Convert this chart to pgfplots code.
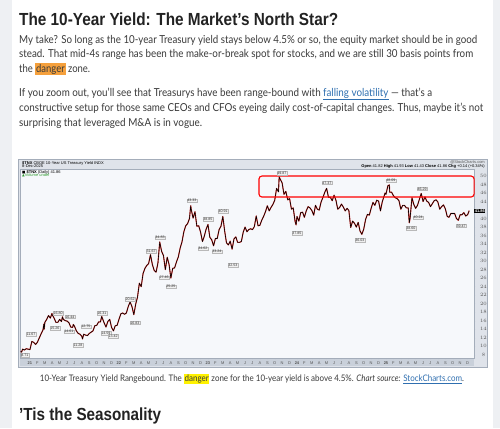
\documentclass[border=0pt]{standalone}
\usepackage{pgfplots}
\usepackage{pgfplotstable}
\pgfplotsset{compat=1.18}
\usepackage{graphicx}
\usepackage{fontspec}
\setmainfont{Lato}
\newfontfamily\headfont{Liberation Sans}
\newfontfamily\scfont{Liberation Sans}
\newfontfamily\symfont{DejaVu Sans}
\definecolor{pagegray}{HTML}{EEF0F3}
\definecolor{txt}{HTML}{3A3A3A}
\definecolor{titlec}{HTML}{222222}
\definecolor{dangerorange}{HTML}{F5A03C}
\definecolor{dangeryellow}{HTML}{FFF200}
\definecolor{linkblue}{HTML}{2F6FB0}
\definecolor{framec}{HTML}{A4ADBA}
\definecolor{frameband}{HTML}{DFE3EA}
\definecolor{plotbg}{HTML}{F6F8FB}
\definecolor{bottomband}{HTML}{C9D0DA}
\definecolor{tnxred}{HTML}{E8403C}
\definecolor{labgray}{HTML}{555555}
\definecolor{volgreen}{HTML}{2E9A2E}
\newcommand\tf{\scfont\fontsize{4}{4.5}\selectfont}
\newcommand\lf{\scfont\fontsize{3.6}{4}\selectfont}

\pgfplotstableread{
t v
2020.896 8.8
2020.906 8.6
2020.917 9.3
2020.938 9.1
2020.958 9.4
2020.979 9.3
2021.000 9.2
2021.021 11.1
2021.042 10.9
2021.063 10.4
2021.083 10.9
2021.104 11.9
2021.125 12.9
2021.146 13.8
2021.156 15.2
2021.160 14.0
2021.167 15.6
2021.188 16.3
2021.208 17.2
2021.229 16.6
2021.247 17.7
2021.250 17.4
2021.271 16.6
2021.292 15.6
2021.313 15.6
2021.333 16.3
2021.354 15.8
2021.365 16.9
2021.375 16.3
2021.396 16.0
2021.417 15.9
2021.438 15.5
2021.458 14.5
2021.479 14.4
2021.487 15.1
2021.500 14.7
2021.521 13.6
2021.542 13.0
2021.563 12.8
2021.583 12.3
2021.590 11.7
2021.604 12.8
2021.625 12.6
2021.646 12.5
2021.667 13.0
2021.688 13.3
2021.708 13.6
2021.729 14.8
2021.750 14.9
2021.771 15.7
2021.792 15.7
2021.806 17.0
2021.813 16.6
2021.833 15.5
2021.854 14.5
2021.875 15.8
2021.896 16.3
2021.917 14.4
2021.938 13.6
2021.958 14.8
2021.979 14.9
2022.000 16.3
2022.021 17.6
2022.042 17.8
2022.063 17.5
2022.083 17.8
2022.104 19.3
2022.125 20.4
2022.146 19.3
2022.167 17.4
2022.188 19.9
2022.208 21.5
2022.229 24.8
2022.250 24.0
2022.271 27.1
2022.292 28.3
2022.313 29.0
2022.333 29.4
2022.354 31.5
2022.375 29.2
2022.396 27.8
2022.417 27.4
2022.438 29.6
2022.458 34.5
2022.479 32.3
2022.500 31.3
2022.521 28.0
2022.542 30.9
2022.563 29.2
2022.583 26.0
2022.604 28.3
2022.625 28.4
2022.646 29.8
2022.667 31.0
2022.688 33.1
2022.708 34.5
2022.729 36.9
2022.750 38.3
2022.771 38.8
2022.792 40.0
2022.806 43.0
2022.813 42.0
2022.833 40.1
2022.854 41.6
2022.875 38.2
2022.896 38.3
2022.917 36.8
2022.938 34.6
2022.958 35.8
2022.979 37.5
2023.000 38.6
2023.021 35.6
2023.042 35.0
2023.063 33.6
2023.083 35.3
2023.104 35.3
2023.125 37.4
2023.146 38.2
2023.167 40.5
2023.188 37.0
2023.208 34.3
2023.229 33.8
2023.250 34.7
2023.271 32.8
2023.292 35.2
2023.313 35.7
2023.333 34.4
2023.354 34.4
2023.375 34.6
2023.396 36.8
2023.417 38.0
2023.438 36.9
2023.458 37.4
2023.479 37.6
2023.500 37.4
2023.521 38.1
2023.542 40.6
2023.563 38.3
2023.583 38.4
2023.604 39.6
2023.625 40.5
2023.646 41.6
2023.667 43.0
2023.688 41.8
2023.708 42.6
2023.729 43.3
2023.750 44.3
2023.771 47.1
2023.792 46.3
2023.800 49.8
2023.813 49.2
2023.833 48.4
2023.854 45.7
2023.875 46.4
2023.896 44.4
2023.917 44.7
2023.938 42.2
2023.958 42.5
2023.979 39.3
2023.990 38.5
2024.000 40.5
2024.021 39.4
2024.042 41.4
2024.063 41.5
2024.083 40.3
2024.104 41.8
2024.125 42.8
2024.146 42.5
2024.167 41.9
2024.188 40.8
2024.208 43.1
2024.229 42.2
2024.250 42.0
2024.271 43.9
2024.292 45.0
2024.313 46.2
2024.333 47.1
2024.354 45.0
2024.375 45.0
2024.396 44.2
2024.417 45.5
2024.438 44.3
2024.458 42.2
2024.479 42.6
2024.500 43.4
2024.521 42.7
2024.542 41.8
2024.563 42.4
2024.583 41.9
2024.604 37.9
2024.625 39.4
2024.646 38.9
2024.667 38.0
2024.688 39.1
2024.708 37.1
2024.729 36.3
2024.750 37.5
2024.771 39.8
2024.792 41.0
2024.813 40.8
2024.833 42.4
2024.854 43.8
2024.875 43.1
2024.896 44.3
2024.917 44.1
2024.938 41.8
2024.958 43.9
2024.979 45.3
2024.990 46.0
2025.000 45.7
2025.021 47.7
2025.038 47.9
2025.042 46.2
2025.063 46.2
2025.083 45.4
2025.104 44.9
2025.125 44.7
2025.146 44.2
2025.167 42.2
2025.188 43.1
2025.208 43.1
2025.229 42.5
2025.250 42.5
2025.262 39.0
2025.271 40.1
2025.292 44.9
2025.313 43.3
2025.333 42.4
2025.354 43.1
2025.375 44.5
2025.396 45.9
2025.417 44.0
2025.438 45.1
2025.458 44.1
2025.479 43.8
2025.500 42.8
2025.521 43.5
2025.542 44.2
2025.563 44.4
2025.583 43.9
2025.604 42.2
2025.625 42.8
2025.646 43.2
2025.667 42.3
2025.688 40.5
2025.708 40.3
2025.729 41.2
2025.750 41.2
2025.771 41.2
2025.792 40.0
2025.813 39.6
2025.833 40.9
2025.854 40.9
2025.875 41.4
2025.896 40.6
2025.917 40.9
2025.927 41.4
2025.935 41.86
}\yielddata

\begin{document}
\begin{tikzpicture}
\path[use as bounding box] (0pt,0pt) rectangle (500pt,428pt);
\begin{scope}[x=1pt, y=-1pt, yshift=428pt]
\fill[pagegray] (0,0) rectangle (500,428);
\fill[white] (12,0) rectangle (493,428);

% title
\node[anchor=west, inner sep=0, text=titlec] at (19,19)
  {\headfont\bfseries\fontsize{17.5}{20}\selectfont\resizebox{319pt}{\height}{The 10-Year Yield: The Market’s North Star?}};

% paragraphs
\begin{scope}[every node/.style={anchor=west, inner sep=0, text=txt}]
\node at (19,40) {\fontsize{11}{13}\selectfont\resizebox{458pt}{\height}{My take? So long as the 10-year Treasury yield stays below 4.5\% or so, the equity market should be in good}};
\node at (19,54.5) {\fontsize{11}{13}\selectfont\resizebox{454pt}{\height}{stead. That mid-4s range has been the make-or-break spot for stocks, and we are still 30 basis points from}};
\node at (19,69) {\fontsize{11}{13}\selectfont\resizebox{71pt}{\height}{the {\setlength{\fboxsep}{1pt}\colorbox{dangerorange}{danger}} zone.}};
\node at (19,94) {\fontsize{11}{13}\selectfont\resizebox{413pt}{\height}{If you zoom out, you’ll see that Treasurys have been range-bound with \textcolor{linkblue}{\underline{falling volatility}} — that’s a}};
\node at (19,108.5) {\fontsize{11}{13}\selectfont\resizebox{464pt}{\height}{constructive setup for those same CEOs and CFOs eyeing daily cost-of-capital changes. Thus, maybe it’s not}};
\node at (19,123) {\fontsize{11}{13}\selectfont\resizebox{183pt}{\height}{surprising that leveraged M\&A is in vogue.}};
\end{scope}

% chart frame
\fill[frameband] (18,159) rectangle (487,367);
\draw[framec, line width=0.5pt] (18,159) rectangle (487,367);
\fill[bottomband] (20,358) rectangle (474,366);
\end{scope}

\begin{axis}[
  at={(20pt,70pt)}, anchor=south west,
  width=454pt, height=189pt, scale only axis,
  xmin=2020.888, xmax=2025.989, ymin=7.22, ymax=51.65,
  axis background/.style={fill=plotbg},
  axis line style={draw=framec, line width=0.4pt},
  clip=false,
  xtick pos=bottom, ytick pos=right,
  xtick={2021.000,2021.083,2021.167,2021.250,2021.333,2021.417,2021.500,2021.583,2021.667,2021.750,2021.833,2021.917,
         2022.000,2022.083,2022.167,2022.250,2022.333,2022.417,2022.500,2022.583,2022.667,2022.750,2022.833,2022.917,
         2023.000,2023.083,2023.167,2023.250,2023.333,2023.417,2023.500,2023.583,2023.667,2023.750,2023.833,2023.917,
         2024.000,2024.083,2024.167,2024.250,2024.333,2024.417,2024.500,2024.583,2024.667,2024.750,2024.833,2024.917,
         2025.000,2025.083,2025.167,2025.250,2025.333,2025.417,2025.500,2025.583,2025.667,2025.750,2025.833,2025.917},
  xticklabels={{\textbf{21}},F,M,A,M,J,J,A,S,O,N,D,
               {\textbf{22}},F,M,A,M,J,J,A,S,O,N,D,
               {\textbf{23}},F,M,A,M,J,J,A,S,O,N,D,
               {\textbf{24}},F,M,A,M,J,J,A,S,O,N,D,
               {\textbf{25}},F,M,A,M,J,J,A,S,O,N,D},
  xticklabel style={font=\tf, text=labgray, inner sep=0pt, anchor=center, yshift=-4pt},
  ytick={8,10,12,14,16,18,20,22,24,26,28,30,32,34,36,38,40,44,46,48,50},
  yticklabel style={font=\tf, text=labgray, inner sep=0pt, anchor=center, xshift=8pt},
  major tick length=1.5pt,
  tick style={draw=framec, line width=0.3pt},
  tick align=outside,
]
\addplot[tnxred, line width=1.15pt, line join=round] table[x=t, y=v] {\yielddata};
\addplot[black, line width=0.6pt, line join=round] table[x=t, y=v] {\yielddata};

\draw[red, line width=1.1pt, rounded corners=3pt] (axis cs:2023.573,45.06) rectangle (axis cs:2025.99,50.0);

\tikzset{lab/.style={font=\lf, fill=gray!12, draw=gray!55, line width=0.2pt, inner sep=0.5pt, text=black!80}}
\node[lab] at (axis cs:2020.944,7.9) {8.71};
\node[lab] at (axis cs:2021.011,12.9) {11.67};
\node[lab] at (axis cs:2021.281,14.3) {15.26};
\node[lab] at (axis cs:2021.315,17.8) {16.80};
\node[lab] at (axis cs:2021.449,16.9) {16.44};
\node[lab] at (axis cs:2021.438,13.4) {14.61};
\node[lab] at (axis cs:2021.539,10.3) {11.28};
\node[lab] at (axis cs:2021.629,14.6) {12.75};
\node[lab] at (axis cs:2021.809,17.8) {16.31};
\node[lab] at (axis cs:2021.854,13.1) {14.59};
\node[lab] at (axis cs:2021.933,12.4) {13.42};
\node[lab] at (axis cs:2022.124,21.1) {20.62};
\node[lab] at (axis cs:2022.180,15.5) {16.83};
\node[lab] at (axis cs:2022.360,32.4) {31.67};
\node[lab] at (axis cs:2022.461,35.5) {34.83};
\node[lab] at (axis cs:2022.506,26.1) {27.46};
\node[lab] at (axis cs:2022.584,24.0) {25.25};
\node[lab] at (axis cs:2022.820,44.2) {43.33};
\node[lab] at (axis cs:2022.944,32.9) {34.62};
\node[lab] at (axis cs:2023.000,39.9) {38.85};
\node[lab] at (axis cs:2023.101,32.2) {33.24};
\node[lab] at (axis cs:2023.169,41.8) {40.91};
\node[lab] at (axis cs:2023.281,29.0) {32.53};
\node[lab] at (axis cs:2023.831,50.7) {49.87};
\node[lab] at (axis cs:2023.999,36.6) {37.85};
\node[lab] at (axis cs:2024.337,48.4) {47.37};
\node[lab] at (axis cs:2024.708,35.0) {36.03};
\node[lab] at (axis cs:2025.056,48.9) {48.09};
\node[lab] at (axis cs:2025.281,37.8) {38.60};
\node[lab] at (axis cs:2025.360,40.2) {40.24};
\node[lab] at (axis cs:2025.405,47.0) {46.29};
\node[lab] at (axis cs:2025.843,38.3) {39.47};

\node[fill=black, text=white, font=\tf\bfseries, inner sep=0.6pt, anchor=west] at (axis cs:2025.989,41.86) {41.86};
\end{axis}

\begin{scope}[x=1pt, y=-1pt, yshift=428pt]
% chart header
\node[anchor=west, inner sep=0] at (22,163) {\tf\textbf{\$TNX} CBOE 10-Year US Treasury Yield INDX};
\node[anchor=west, inner sep=0] at (22,166.3) {\tf 8-Dec-2025};
\node[anchor=east, inner sep=0, text=labgray] at (485,162) {\tf @StockCharts.com};
\node[anchor=east, inner sep=0] at (485,166.3) {\tf\textbf{Open} 41.82 \textbf{High} 41.93 \textbf{Low} 41.43 \textbf{Close} 41.86 \textbf{Chg} +0.14 (+0.34\%)};
\node[anchor=west, inner sep=0] at (22,172) {\tf{\symfont\fontsize{3.5}{4}\selectfont ■} \textbf{\$TNX} (Daily) 41.86};
\node[anchor=west, inner sep=0, text=volgreen] at (22,175.5) {\tf{\symfont\fontsize{3.5}{4}\selectfont ▲}Volume undef};

% caption
\node[anchor=center, inner sep=0, text=txt] at (252,379) {\fontsize{9}{11}\selectfont\resizebox{424pt}{\height}{10-Year Treasury Yield Rangebound. The {\setlength{\fboxsep}{0.8pt}\colorbox{dangeryellow}{danger}} zone for the 10-year yield is above 4.5\%. \textit{Chart source:} \textcolor{linkblue}{\underline{StockCharts.com}}.}};

% second heading
\node[anchor=west, inner sep=0, text=titlec] at (19,416)
  {\headfont\bfseries\fontsize{17.5}{20}\selectfont\resizebox{142pt}{\height}{’Tis the Seasonality}};
\end{scope}
\end{tikzpicture}
\end{document}
